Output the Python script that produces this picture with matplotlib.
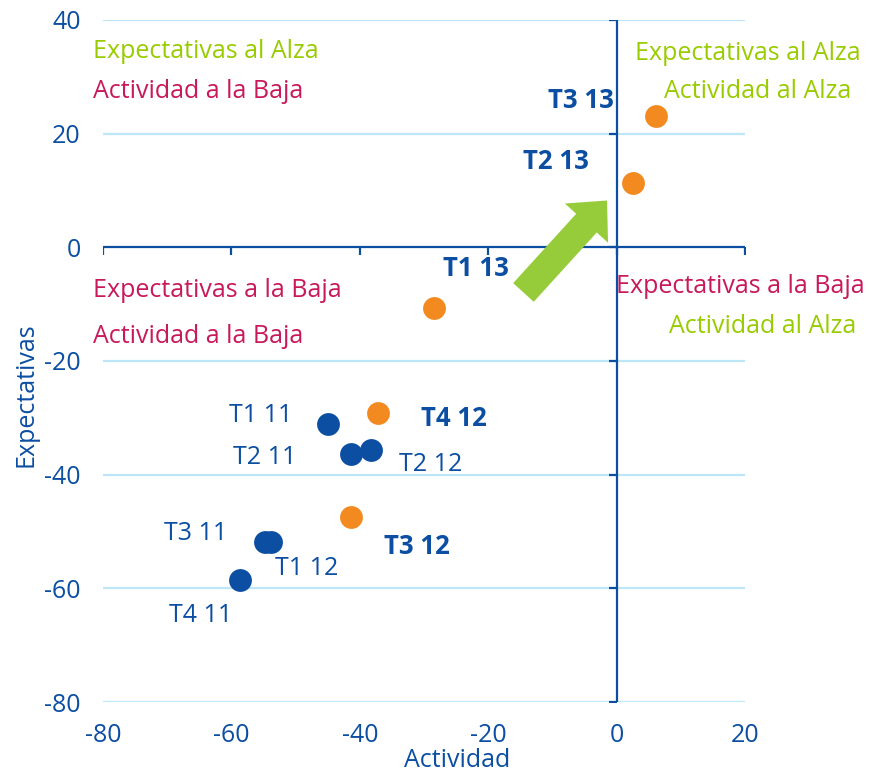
import matplotlib
matplotlib.use("Agg")
import matplotlib.pyplot as plt
from matplotlib.patches import FancyArrowPatch

plt.rcParams["font.family"] = ["Open Sans", "DejaVu Sans"]
plt.rcParams["axes.unicode_minus"] = False

BLUE = "#0B4EA2"
ORANGE = "#F28A1F"
GREEN = "#99CC00"
MAGENTA = "#C8195A"
GRID = "#BDE6F8"
FS = 18

# ── data ─────────────────────────────────────────────────────────────────────
past_labels = ["T1 11", "T2 11", "T3 11", "T4 11", "T1 12", "T2 12"]
past_x = [-45.0, -41.3, -54.8, -58.6, -53.9, -38.2]
past_y = [-31.0, -36.3, -51.8, -58.6, -51.8, -35.7]

recent_labels = ["T3 12", "T4 12", "T1 13", "T2 13", "T3 13"]
recent_x = [-41.3, -37.2, -28.5, 2.5, 6.2]
recent_y = [-47.5, -29.2, -10.6, 11.4, 23.1]

x_ticks = [-80, -60, -40, -20, 0, 20]
y_ticks = [-80, -60, -40, -20, 0, 20, 40]

# label offsets in pixels (dx to the near edge, dy up, ha)
past_offsets = [(-35, 8, "right"), (-55, -4, "right"), (-38, 8, "right"),
                (-8, -35, "right"), (4, -27, "left"), (28, -14, "left")]
recent_offsets = [(33, -29, "left"), (43, -5, "left"), (9, 39, "left"),
                  (-44, 21, "right"), (-43, 16, "right")]

fig = plt.figure(figsize=(8.7, 7.74), dpi=100)
ax = fig.add_axes([103 / 870, 1 - 702 / 774, 642 / 870, 682 / 774])
ax.set_xlim(-80, 20)
ax.set_ylim(-80, 40)

for s in ax.spines.values():
    s.set_visible(False)

# light gridlines + dark axes crossing at the origin
for yv in y_ticks:
    if yv != 0:
        ax.axhline(yv, color=GRID, lw=1.6, zorder=0)
ax.axhline(0, color=BLUE, lw=1.6, zorder=1)
ax.axvline(0, color=BLUE, lw=1.6, zorder=1)
ax.plot(x_ticks, [0] * len(x_ticks), ls="none", marker=3, ms=6, mew=1.6,
        color=BLUE, zorder=1)
ax.plot([0] * len(y_ticks), y_ticks, ls="none", marker=0, ms=6, mew=1.6,
        color=BLUE, zorder=1)

ax.set_xticks(x_ticks)
ax.set_yticks(y_ticks)
ax.tick_params(length=0, labelsize=FS, colors=BLUE)
ax.tick_params(axis="x", pad=15)
ax.tick_params(axis="y", pad=16)

fig.text(457 / 870, 1 - 767 / 774, "Actividad", color=BLUE, fontsize=FS,
         ha="center", va="baseline")
fig.text(26 / 870, 1 - 395 / 774, "Expectativas", color=BLUE, fontsize=FS,
         ha="center", va="center", rotation=90)

ax.scatter(past_x, past_y, s=270, color=BLUE, zorder=3, lw=0)
ax.scatter(recent_x, recent_y, s=270, color=ORANGE, zorder=3, lw=0)

for lab, x, y, (dx, dy, ha) in zip(past_labels, past_x, past_y, past_offsets):
    ax.annotate(lab, (x, y), xytext=(dx * 0.72, dy * 0.72),
                textcoords="offset points", ha=ha, va="center",
                color=BLUE, fontsize=FS)
for lab, x, y, (dx, dy, ha) in zip(recent_labels, recent_x, recent_y, recent_offsets):
    ax.annotate(lab, (x, y), xytext=(dx * 0.72, dy * 0.72),
                textcoords="offset points", ha=ha, va="center",
                color=BLUE, fontsize=18.5, fontweight="bold")

# quadrant captions
ax.text(-81.6, 33.3, "Expectativas al Alza", color=GREEN, fontsize=FS, va="baseline")
ax.text(-81.6, 26.2, "Actividad a la Baja", color=MAGENTA, fontsize=FS, va="baseline")
ax.text(-81.6, -8.8, "Expectativas a la Baja", color=MAGENTA, fontsize=FS, va="baseline")
ax.text(-81.5, -16.9, "Actividad a la Baja", color=MAGENTA, fontsize=FS, va="baseline")
ax.text(20.4, 32.9, "Expectativas al Alza", color=GREEN, fontsize=FS,
        va="baseline", ha="center", clip_on=False)
ax.text(21.9, 26.2, "Actividad al Alza", color=GREEN, fontsize=FS,
        va="baseline", ha="center", clip_on=False)
ax.text(19.3, -8.1, "Expectativas a la Baja", color=MAGENTA, fontsize=FS,
        va="baseline", ha="center", clip_on=False)
ax.text(22.7, -15.0, "Actividad al Alza", color=GREEN, fontsize=FS,
        va="baseline", ha="center", clip_on=False)

# green trend arrow
arrow = FancyArrowPatch((-14.8, -8.3), (-1.2, 8.6),
                        arrowstyle="simple,head_length=1.1,head_width=2.1,tail_width=1.0",
                        mutation_scale=20, color="#96CC3A", lw=0, zorder=2)
ax.add_patch(arrow)

fig.savefig("out.png", dpi=100)
